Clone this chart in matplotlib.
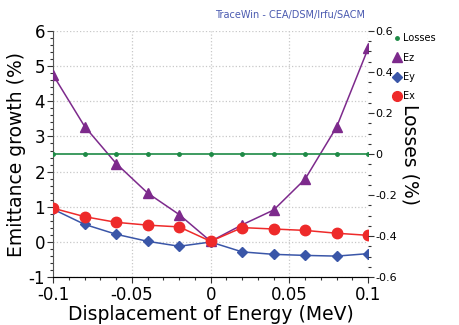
import numpy as np
import matplotlib
matplotlib.use("Agg")
import matplotlib.pyplot as plt
from matplotlib.ticker import MultipleLocator
from matplotlib.lines import Line2D

# displacement of energy (MeV)
de = [-0.1, -0.08, -0.06, -0.04, -0.02, 0.0, 0.02, 0.04, 0.06, 0.08, 0.1]

# emittance growth (%)
ez = [4.74, 3.28, 2.23, 1.39, 0.78, 0.02, 0.49, 0.91, 1.79, 3.27, 5.50]
ey = [0.93, 0.50, 0.22, 0.02, -0.12, 0.0, -0.28, -0.35, -0.38, -0.40, -0.33]
ex = [0.96, 0.72, 0.56, 0.48, 0.43, 0.02, 0.41, 0.37, 0.33, 0.25, 0.19]

# losses (%)
losses = [0.0] * 11

c_ez = '#7d2a8c'
c_ey = '#3a56a8'
c_ex = '#ee2a2a'
c_loss = '#1e8a46'

fig = plt.figure(figsize=(4.59, 3.25), dpi=100)
ax = fig.add_axes([0.116, 0.147, 0.686, 0.758])
ax2 = ax.twinx()

ax.plot(de, ez, color=c_ez, marker='^', ms=7, lw=1.1, zorder=3)
ax.plot(de, ey, color=c_ey, marker='D', ms=5, lw=1.1, zorder=4)
ax.plot(de, ex, color=c_ex, marker='o', ms=7.5, lw=1.1, zorder=5)
ax2.plot(de, losses, color=c_loss, marker='o', ms=2.5, lw=1.2)

ax.set_xlim(-0.1, 0.1)
ax.set_ylim(-1, 6)
ax2.set_ylim(-0.6, 0.6)

ax.xaxis.set_minor_locator(MultipleLocator(0.01))
ax.yaxis.set_minor_locator(MultipleLocator(0.2))
ax2.yaxis.set_minor_locator(MultipleLocator(0.05))

ax.set_xticks([-0.1, -0.05, 0, 0.05, 0.1])
ax.set_xticklabels(['-0.1', '-0.05', '0', '0.05', '0.1'])
ax.set_yticks(range(-1, 7))
ax.set_yticklabels([str(v) for v in range(-1, 7)])
ax2.set_yticks([-0.6, -0.4, -0.2, 0, 0.2, 0.4, 0.6])
ax2.set_yticklabels(['-0.6', '-0.4', '-0.2', '0', '0.2', '0.4', '0.6'])

ax.grid(True, which='major', color='#c8c8c8', ls=':', lw=0.9)
ax.set_axisbelow(True)

for a in (ax, ax2):
    a.spines['top'].set_visible(False)
    a.tick_params(which='major', length=4, width=0.8, color='#333333')
    a.tick_params(which='minor', length=2, width=0.8, color='#333333')
ax.spines['right'].set_visible(False)
ax2.spines['left'].set_visible(False)
ax2.spines['right'].set_visible(False)
ax.spines['left'].set_color('#555555')
ax.spines['bottom'].set_color('#555555')

ax.tick_params(axis='both', labelsize=12, pad=2)
ax2.tick_params(axis='y', labelsize=8, pad=1)

ax.set_xlabel('Displacement of Energy (MeV)', fontsize=13.5, labelpad=1)
ax.set_ylabel('Emittance growth (%)', fontsize=13.5, labelpad=2)
ax2.set_ylabel('Losses (%)', fontsize=13.5, rotation=270, labelpad=16)

fig.text(0.795, 0.955, 'TraceWin - CEA/DSM/Irfu/SACM', color='#4a5ab0',
         fontsize=7, ha='right', va='center')

handles = [
    Line2D([], [], ls='none', marker='o', ms=2.5, color=c_loss),
    Line2D([], [], ls='none', marker='^', ms=6.5, color=c_ez),
    Line2D([], [], ls='none', marker='D', ms=5, color=c_ey),
    Line2D([], [], ls='none', marker='o', ms=7, color=c_ex),
]
labels = ['Losses', 'Ez', 'Ey', 'Ex']
fig.legend(handles, labels, loc='upper left', bbox_to_anchor=(0.858, 0.897),
           frameon=False, fontsize=7, handlelength=0.6, handletextpad=0.3,
           labelspacing=0.95, borderpad=0, borderaxespad=0)

fig.savefig('out.png', dpi=100)
